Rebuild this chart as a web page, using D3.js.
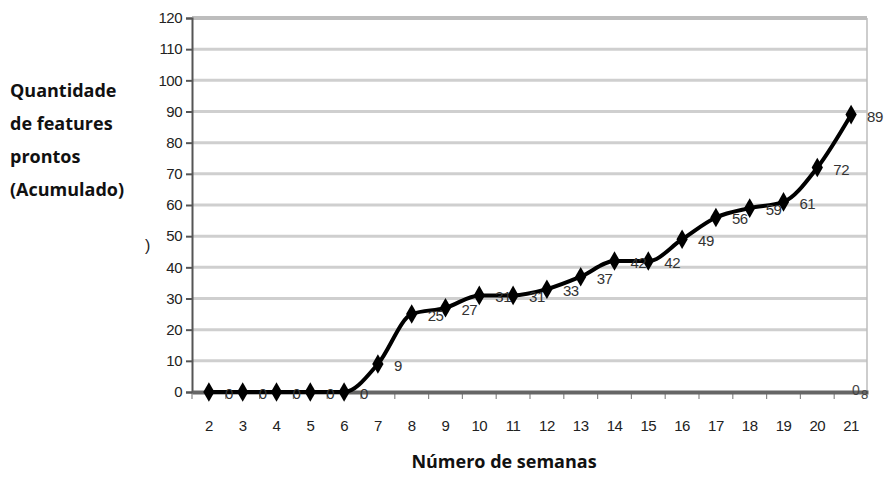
<!DOCTYPE html>
<html><head><meta charset="utf-8">
<script src="https://cdn.jsdelivr.net/npm/d3@7"></script>
<style>
body{margin:0;background:#fff;}
svg{display:block;}
</style></head>
<body>
<svg id="chart" width="884" height="480"></svg>
<script>
const weeks = [2,3,4,5,6,7,8,9,10,11,12,13,14,15,16,17,18,19,20,21];
const features = [0,0,0,0,0,9,25,27,31,31,33,37,42,42,49,56,59,61,72,89];
const yTicks = [0,10,20,30,40,50,60,70,80,90,100,110,120];
const yTitle = ["Quantidade","de features","prontos","(Acumulado)"];
const xTitle = "Número de semanas";

const svg = d3.select("#chart");
const x = d3.scaleBand().domain(weeks).range([192, 868]).padding(0);
const y = d3.scaleLinear().domain([0,120]).range([392, 18]);
const cx = d => x(d) + x.bandwidth()/2;
const tickFont = "'Liberation Sans', Arial, sans-serif";

// gridlines
svg.append("g").selectAll("line").data(yTicks.filter(t=>t>0)).join("line")
  .attr("x1", 192).attr("x2", 867)
  .attr("y1", d=>y(d)).attr("y2", d=>y(d))
  .attr("stroke", d => d===120 ? "#bdbdbd" : "#cfcfcf")
  .attr("stroke-width", d => d===120 ? 4 : 3);

// right border
svg.append("line").attr("x1",867).attr("x2",867).attr("y1",y(120)).attr("y2",396)
  .attr("stroke","#bdbdbd").attr("stroke-width",1.5);

// band boundary ticks
svg.append("g").selectAll("line").data(weeks).join("line")
  .attr("x1", d=>x(d)).attr("x2", d=>x(d))
  .attr("y1", 393).attr("y2", 399)
  .attr("stroke","#888").attr("stroke-width",1.2);

// y axis
const yAxis = d3.axisLeft(y).tickValues(yTicks).tickSize(6).tickPadding(4);
const gy = svg.append("g").attr("transform","translate(192,0)").call(yAxis);
gy.select(".domain").attr("stroke","#555").attr("stroke-width",2);
gy.selectAll(".tick line").attr("stroke","#555").attr("stroke-width",2);
gy.selectAll(".tick text").attr("font-family",tickFont)
  .attr("font-size",15).attr("letter-spacing",-0.5).attr("fill","#222");

// x axis
const xAxis = d3.axisBottom(x).tickSize(0).tickPadding(28);
const gx = svg.append("g").attr("transform","translate(0,392)").call(xAxis);
gx.select(".domain").attr("stroke","#666").attr("stroke-width",4);
gx.selectAll(".tick text").attr("font-family",tickFont)
  .attr("font-size",15).attr("letter-spacing",-0.5).attr("fill","#222");

// line
const line = d3.line().x((d,i)=>cx(weeks[i])).y(d=>y(d)).curve(d3.curveMonotoneX);
svg.append("path").datum(features).attr("d", line)
  .attr("fill","none").attr("stroke","#000").attr("stroke-width",4);

// markers
svg.append("g").selectAll("path").data(features).join("path")
  .attr("d", d3.symbol(d3.symbolDiamond, 110))
  .attr("transform",(d,i)=>`translate(${cx(weeks[i])},${y(d)})`)
  .attr("fill","#000");

// data labels
svg.append("g").selectAll("text").data(features).join("text")
  .attr("x",(d,i)=>cx(weeks[i])+16)
  .attr("y",d=>y(d)+3)
  .attr("dominant-baseline","middle")
  .attr("font-family",tickFont)
  .attr("font-size",15).attr("letter-spacing",-0.5).attr("fill","#333")
  .text(d=>d);

// stray end labels
svg.append("text").attr("x",852).attr("y",391).attr("dominant-baseline","middle")
  .attr("font-family",tickFont).attr("font-size",14).attr("fill","#444").text("0");
svg.append("text").attr("x",861).attr("y",396).attr("dominant-baseline","middle")
  .attr("font-family",tickFont).attr("font-size",13).attr("fill","#444").text("8");
svg.append("text").attr("x",145).attr("y",251)
  .attr("font-family",tickFont).attr("font-size",16).attr("fill","#222").text(")");

// y title
svg.append("g").selectAll("text").data(yTitle).join("text")
  .attr("x",10).attr("y",(d,i)=>97+i*33)
  .attr("font-family","'Open Sans', sans-serif").attr("font-weight","bold")
  .attr("font-size",18).attr("fill","#111")
  .text(d=>d);

// x title
svg.append("text").attr("x",504).attr("y",468).attr("text-anchor","middle")
  .attr("font-family","'Open Sans', sans-serif").attr("font-weight","bold")
  .attr("font-size",18).attr("fill","#111").text(xTitle);
</script>
</body></html>
